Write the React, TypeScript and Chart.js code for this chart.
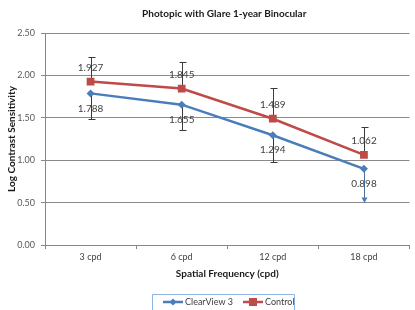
import React, { useEffect, useRef } from "react";
import { Chart, registerables } from "chart.js";

Chart.register(...registerables);

const categories = ["3 cpd", "6 cpd", "12 cpd", "18 cpd"];
const clearView = [1.788, 1.655, 1.294, 0.898];
const control = [1.927, 1.845, 1.489, 1.062];
const clearViewErrMinus = [0.302, 0.299, 0.319, 0.388];
const controlErrPlus = [0.286, 0.309, 0.359, 0.333];
const yTicks = [0, 0.5, 1, 1.5, 2, 2.5];
const titleText = "Photopic with Glare 1-year Binocular";

const BLUE = "#4A7EBB";
const RED = "#BE4B48";
const FONT = "Lato, 'Open Sans', sans-serif";

const errorPlugin = {
  id: "errs",
  beforeDatasetsDraw(chart: any) {
    const ctx = chart.ctx;
    const x = chart.scales.x;
    const y = chart.scales.y;
    ctx.save();
    ctx.lineWidth = 1;
    const cap = 3;
    control.forEach((v, i) => {
      const px = Math.round(x.getPixelForValue(i)) + 0.5;
      const y0 = y.getPixelForValue(v);
      const y1 = Math.round(y.getPixelForValue(v + controlErrPlus[i])) + 0.5;
      ctx.strokeStyle = "#3a3a3a";
      ctx.beginPath();
      ctx.moveTo(px, y0);
      ctx.lineTo(px, y1);
      ctx.moveTo(px - cap, y1);
      ctx.lineTo(px + cap + 1, y1);
      ctx.stroke();
    });
    clearView.forEach((v, i) => {
      const px = Math.round(x.getPixelForValue(i)) + 0.5;
      const y0 = y.getPixelForValue(v);
      const y1 = Math.round(y.getPixelForValue(v - clearViewErrMinus[i])) + 0.5;
      const last = i === clearView.length - 1;
      ctx.strokeStyle = last ? "#4b6f9e" : "#3a3a3a";
      ctx.beginPath();
      ctx.moveTo(px, y0);
      ctx.lineTo(px, last ? y1 - 3 : y1);
      if (!last) {
        ctx.moveTo(px - cap, y1);
        ctx.lineTo(px + cap + 1, y1);
      }
      ctx.stroke();
      if (last) {
        ctx.fillStyle = BLUE;
        ctx.beginPath();
        ctx.moveTo(px - 3, y1 - 5);
        ctx.lineTo(px + 3, y1 - 5);
        ctx.lineTo(px, y1 + 0.5);
        ctx.closePath();
        ctx.fill();
      }
    });
    ctx.restore();
  },
  afterDatasetsDraw(chart: any) {
    const ctx = chart.ctx;
    ctx.save();
    ctx.font = `10px ${FONT}`;
    ctx.fillStyle = "#404040";
    ctx.textAlign = "center";
    ctx.textBaseline = "middle";
    chart.data.datasets.forEach((ds: any, di: number) => {
      const meta = chart.getDatasetMeta(di);
      meta.data.forEach((pt: any, i: number) => {
        const v = ds.data[i];
        const dy = di === 1 ? -14 : 15;
        ctx.fillText(v.toFixed(3), pt.x, pt.y + dy);
      });
    });
    ctx.restore();
  },
};

const overlayPlugin = {
  id: "overlay",
  afterDraw(chart: any) {
    const ctx = chart.ctx;
    ctx.save();
    // title centred over the plot area
    const ca = chart.chartArea;
    ctx.font = `bold 10px ${FONT}`;
    ctx.fillStyle = "#1a1a1a";
    ctx.textAlign = "center";
    ctx.textBaseline = "middle";
    ctx.fillText(titleText, (ca.left + ca.right) / 2 - 3, 14);

    // legend
    const left = 152.5;
    const right = 294.5;
    const top = 294.5;
    ctx.strokeStyle = "#8eb4e3";
    ctx.lineWidth = 1;
    ctx.beginPath();
    ctx.moveTo(left, 320);
    ctx.lineTo(left, top);
    ctx.lineTo(right, top);
    ctx.lineTo(right, 320);
    ctx.stroke();
    const cy = 302;
    const items = [
      { x: 163, color: BLUE, label: chart.data.datasets[0].label, shape: "diamond" },
      { x: 243, color: RED, label: chart.data.datasets[1].label, shape: "square" },
    ];
    ctx.font = `9px ${FONT}`;
    ctx.textBaseline = "middle";
    ctx.textAlign = "left";
    items.forEach((it) => {
      ctx.strokeStyle = it.color;
      ctx.lineWidth = 2.5;
      ctx.beginPath();
      ctx.moveTo(it.x, cy);
      ctx.lineTo(it.x + 20, cy);
      ctx.stroke();
      ctx.fillStyle = it.color;
      const mx = it.x + 10;
      if (it.shape === "diamond") {
        ctx.beginPath();
        ctx.moveTo(mx, cy - 3.5);
        ctx.lineTo(mx + 3.5, cy);
        ctx.lineTo(mx, cy + 3.5);
        ctx.lineTo(mx - 3.5, cy);
        ctx.closePath();
        ctx.fill();
      } else {
        ctx.fillRect(mx - 4, cy - 4, 8, 8);
      }
      ctx.fillStyle = "#404040";
      ctx.fillText(it.label, it.x + 22, cy + 0.5);
    });
    ctx.restore();
  },
};

export default function App() {
  const ref = useRef<HTMLCanvasElement>(null);
  useEffect(() => {
    document.body.style.margin = "0";
    const chart = new Chart(ref.current!, {
      type: "line",
      data: {
        labels: categories,
        datasets: [
          {
            label: "ClearView 3",
            data: clearView,
            borderColor: BLUE,
            backgroundColor: BLUE,
            borderWidth: 2.5,
            pointStyle: "rectRot",
            pointRadius: 4,
            pointBorderWidth: 0,
            tension: 0,
          },
          {
            label: "Control",
            data: control,
            borderColor: RED,
            backgroundColor: RED,
            borderWidth: 2.5,
            pointStyle: "rect",
            pointRadius: 5.5,
            pointBorderWidth: 0,
            tension: 0,
          },
        ],
      },
      options: {
        animation: false,
        responsive: false,
        layout: { padding: { left: 0, right: 0, top: 0, bottom: 25 } },
        plugins: {
          legend: { display: false },
          tooltip: { enabled: false },
          title: {
            display: true,
            text: titleText,
            color: "rgba(0,0,0,0)",
            font: { family: FONT, size: 10, weight: "bold" },
            padding: { top: 8, bottom: 13 },
          },
        },
        scales: {
          x: {
            type: "category",
            offset: true,
            border: { color: "#868686", width: 1 },
            grid: {
              offset: true,
              drawOnChartArea: false,
              drawTicks: true,
              tickLength: 4,
              color: "#868686",
            },
            ticks: {
              color: "#404040",
              font: { family: FONT, size: 9 },
              padding: 3,
              maxRotation: 0,
            },
            title: {
              display: true,
              text: "Spatial Frequency (cpd)",
              color: "#1a1a1a",
              font: { family: FONT, size: 10, weight: "bold" },
              padding: { top: 3, bottom: 5 },
            },
            afterFit(scale: any) {
              scale.height = 40;
            },
          },
          y: {
            min: 0,
            max: 2.5,
            border: { color: "#868686", width: 1 },
            grid: {
              color: "#8a8a8a",
              tickLength: 4,
              drawTicks: true,
            },
            afterBuildTicks(scale: any) {
              scale.ticks = yTicks.map((v) => ({ value: v }));
            },
            ticks: {
              color: "#595959",
              font: { family: FONT, size: 9 },
              padding: 6,
              callback: (v: any) => Number(v).toFixed(2),
            },
            title: {
              display: true,
              text: "Log Contrast Sensitivity",
              color: "#1a1a1a",
              font: { family: FONT, size: 10, weight: "bold" },
              padding: { top: 6, bottom: 2 },
            },
            afterFit(scale: any) {
              scale.width = 45;
            },
          },
        },
      },
      plugins: [errorPlugin, overlayPlugin],
    });
    return () => chart.destroy();
  }, []);
  return <canvas ref={ref} width={415} height={310} style={{ display: "block" }} />;
}
